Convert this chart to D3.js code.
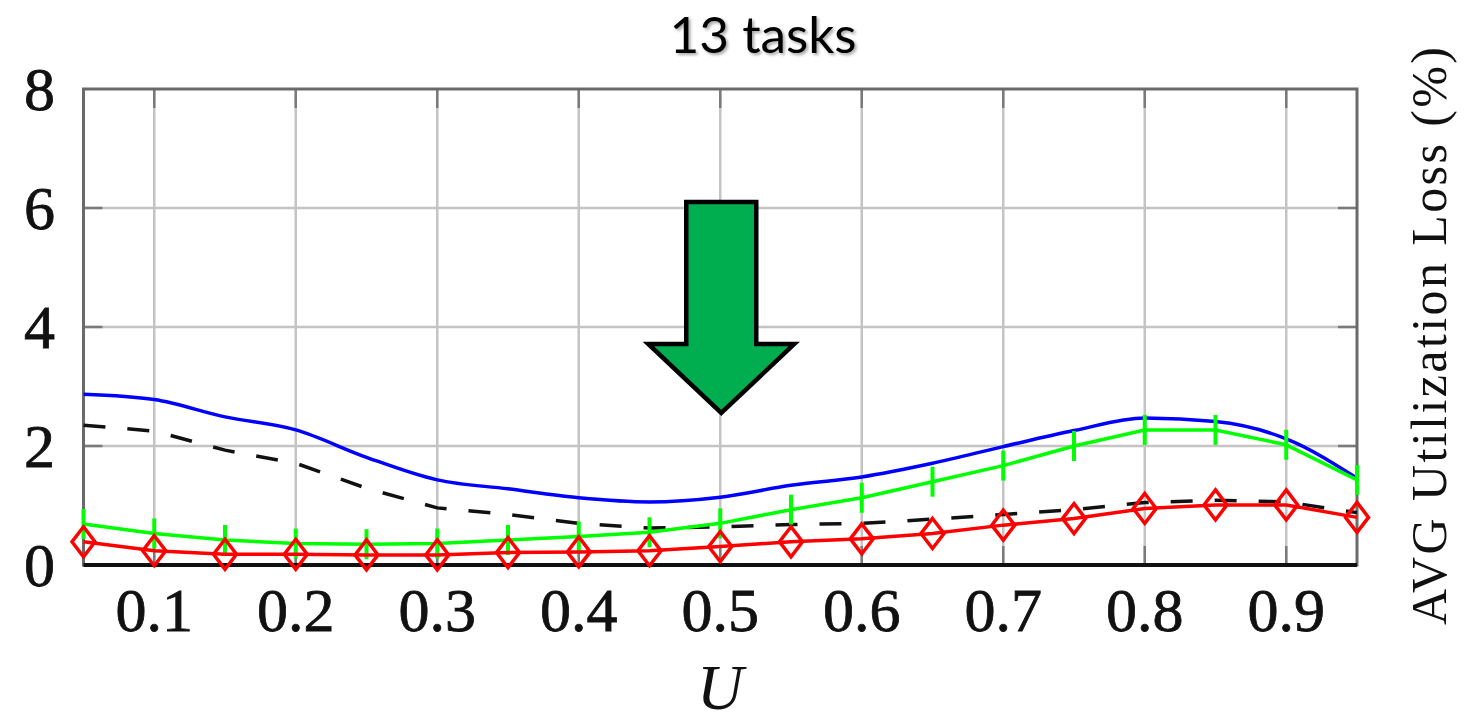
<!DOCTYPE html>
<html>
<head>
<meta charset="utf-8">
<script src="https://cdn.jsdelivr.net/npm/d3@7"></script>
<style>
  body { margin: 0; background: #fff; }
  svg { display: block; }
</style>
</head>
<body>
<div id="d3-container"></div>
<script>
// values (U from 0.05 to 0.95)
const U = [0.05, 0.1, 0.15, 0.2, 0.25, 0.3, 0.35, 0.4, 0.45, 0.5, 0.55, 0.6, 0.65, 0.7, 0.75, 0.8, 0.85, 0.9, 0.95];
const blueLoss = [2.87, 2.78, 2.49, 2.27, 1.81, 1.43, 1.28, 1.13, 1.06, 1.14, 1.34, 1.48, 1.71, 1.99, 2.26, 2.47, 2.41, 2.12, 1.46];
const dashedLoss = [2.35, 2.25, 1.93, 1.71, 1.29, 0.96, 0.85, 0.70, 0.62, 0.64, 0.68, 0.70, 0.77, 0.85, 0.93, 1.05, 1.09, 1.06, 0.88];
const greenLoss = [0.69, 0.53, 0.42, 0.36, 0.35, 0.36, 0.42, 0.48, 0.55, 0.70, 0.93, 1.13, 1.40, 1.67, 2.00, 2.27, 2.27, 2.02, 1.43];
const redLoss = [0.39, 0.24, 0.18, 0.18, 0.17, 0.17, 0.21, 0.22, 0.24, 0.31, 0.39, 0.44, 0.53, 0.67, 0.78, 0.95, 1.01, 1.01, 0.80];

const xTicks = [0.1, 0.2, 0.3, 0.4, 0.5, 0.6, 0.7, 0.8, 0.9];
const yTicks = [0, 2, 4, 6, 8];

const width = 1477;
const height = 725;
const margin = { top: 89, right: 120, bottom: 160, left: 83.5 };

const xScale = d3.scaleLinear()
    .domain([0.05, 0.95])
    .range([margin.left, width - margin.right]);

const yScale = d3.scaleLinear()
    .domain([0, 8])
    .range([height - margin.bottom, margin.top]);

const x0 = xScale.range()[0], x1 = xScale.range()[1];
const y0 = yScale.range()[0], y1 = yScale.range()[1];

const svg = d3.select("#d3-container")
    .append("svg")
    .attr("width", width)
    .attr("height", height);

// grid
svg.append("g")
    .selectAll("line")
    .data(xTicks)
    .enter()
    .append("line")
    .attr("x1", d => xScale(d)).attr("x2", d => xScale(d))
    .attr("y1", y1).attr("y2", y0)
    .attr("stroke", "#c4c4c4")
    .attr("stroke-width", 2.5);

svg.append("g")
    .selectAll("line")
    .data(yTicks.slice(1, -1))
    .enter()
    .append("line")
    .attr("x1", x0).attr("x2", x1)
    .attr("y1", d => yScale(d)).attr("y2", d => yScale(d))
    .attr("stroke", "#c4c4c4")
    .attr("stroke-width", 2.5);

// inward ticks on all four sides
const tickLen = 19;
const tickG = svg.append("g").attr("stroke", "#7a7a7a").attr("stroke-width", 2.5);
xTicks.forEach(t => {
    tickG.append("line").attr("x1", xScale(t)).attr("x2", xScale(t)).attr("y1", y0).attr("y2", y0 - tickLen);
    tickG.append("line").attr("x1", xScale(t)).attr("x2", xScale(t)).attr("y1", y1).attr("y2", y1 + tickLen);
});
yTicks.slice(1, -1).forEach(t => {
    tickG.append("line").attr("x1", x0).attr("x2", x0 + tickLen).attr("y1", yScale(t)).attr("y2", yScale(t));
    tickG.append("line").attr("x1", x1).attr("x2", x1 - tickLen).attr("y1", yScale(t)).attr("y2", yScale(t));
});

// frame
svg.append("rect")
    .attr("x", x0).attr("y", y1)
    .attr("width", x1 - x0).attr("height", y0 - y1)
    .attr("fill", "none")
    .attr("stroke", "#6a6a6a")
    .attr("stroke-width", 3);

svg.append("line")
    .attr("x1", x0).attr("x2", x1)
    .attr("y1", y0).attr("y2", y0)
    .attr("stroke", "#111")
    .attr("stroke-width", 4);

// series
const pts = vals => U.map((u, i) => [u, vals[i]]);

const straight = d3.line().x(d => xScale(d[0])).y(d => yScale(d[1]));
const smooth = d3.line().x(d => xScale(d[0])).y(d => yScale(d[1])).curve(d3.curveMonotoneX);

svg.append("path")
    .attr("d", straight(pts(dashedLoss)))
    .attr("fill", "none")
    .attr("stroke", "#111")
    .attr("stroke-width", 3.5)
    .attr("stroke-dasharray", "22,22");

svg.append("path")
    .attr("d", smooth(pts(blueLoss)))
    .attr("fill", "none")
    .attr("stroke", "#0000ff")
    .attr("stroke-width", 3.5);

svg.append("path")
    .attr("d", straight(pts(greenLoss)))
    .attr("fill", "none")
    .attr("stroke", "#00ff00")
    .attr("stroke-width", 3.5);

svg.append("g")
    .selectAll("line")
    .data(pts(greenLoss))
    .enter()
    .append("line")
    .attr("x1", d => xScale(d[0])).attr("x2", d => xScale(d[0]))
    .attr("y1", d => yScale(d[1]) - 15).attr("y2", d => yScale(d[1]) + 15)
    .attr("stroke", "#00ff00")
    .attr("stroke-width", 4);

svg.append("path")
    .attr("d", straight(pts(redLoss)))
    .attr("fill", "none")
    .attr("stroke", "#ff0000")
    .attr("stroke-width", 3.5);

svg.append("g")
    .selectAll("path")
    .data(pts(redLoss))
    .enter()
    .append("path")
    .attr("d", d => {
        const cx = xScale(d[0]), cy = yScale(d[1]);
        return `M${cx},${cy - 15}L${cx + 11.5},${cy}L${cx},${cy + 15}L${cx - 11.5},${cy}Z`;
    })
    .attr("fill", "none")
    .attr("stroke", "#ff0000")
    .attr("stroke-width", 3.5);

// tick labels
const serif = "'Liberation Serif', 'DejaVu Serif', serif";

svg.append("g")
    .selectAll("text")
    .data(xTicks)
    .enter()
    .append("text")
    .attr("x", d => xScale(d))
    .attr("y", 631)
    .attr("text-anchor", "middle")
    .attr("font-family", serif)
    .attr("font-size", 62)
    .attr("fill", "#111")
    .attr("stroke", "#111")
    .attr("stroke-width", 0.8)
    .text(d => d3.format(".1f")(d));

svg.append("g")
    .selectAll("text")
    .data(yTicks)
    .enter()
    .append("text")
    .attr("x", 55)
    .attr("y", d => yScale(d))
    .attr("dy", "0.34em")
    .attr("text-anchor", "end")
    .attr("font-family", serif)
    .attr("font-size", 62)
    .attr("fill", "#111")
    .attr("stroke", "#111")
    .attr("stroke-width", 0.8)
    .text(d => d);

// axis titles
svg.append("text")
    .attr("x", 720)
    .attr("y", 709)
    .attr("text-anchor", "middle")
    .attr("font-family", serif)
    .attr("font-style", "italic")
    .attr("font-size", 64)
    .attr("fill", "#111")
    .text("U");

svg.append("text")
    .attr("transform", `translate(1446,336) rotate(-90)`)
    .attr("text-anchor", "middle")
    .attr("font-family", serif)
    .attr("font-size", 50)
    .attr("fill", "#111")
    .attr("textLength", 578)
    .attr("lengthAdjust", "spacing")
    .text("AVG Utilization Loss (%)");

svg.append("text")
    .attr("x", 763)
    .attr("y", 53)
    .attr("text-anchor", "middle")
    .attr("font-family", "Lato, 'Noto Sans', sans-serif")
    .attr("font-size", 50)
    .attr("fill", "#000")
    .attr("textLength", 187)
    .attr("lengthAdjust", "spacingAndGlyphs")
    .style("filter", "drop-shadow(2px 2px 1.5px rgba(0,0,0,0.35))")
    .text("13 tasks");

// big green arrow annotation, tip anchored at U = 0.5
const tipX = xScale(0.5) + 1, tipY = 413;
const arrow = [
    [tipX - 35, 202], [tipX + 35, 202], [tipX + 35, 344], [tipX + 73, 344],
    [tipX, tipY], [tipX - 73, 344], [tipX - 35, 344]
];
svg.append("polygon")
    .attr("points", arrow.map(p => p.join(",")).join(" "))
    .attr("fill", "#00ad4f")
    .attr("stroke", "#000")
    .attr("stroke-width", 4.5)
    .attr("stroke-linejoin", "miter");
</script>
</body>
</html>
